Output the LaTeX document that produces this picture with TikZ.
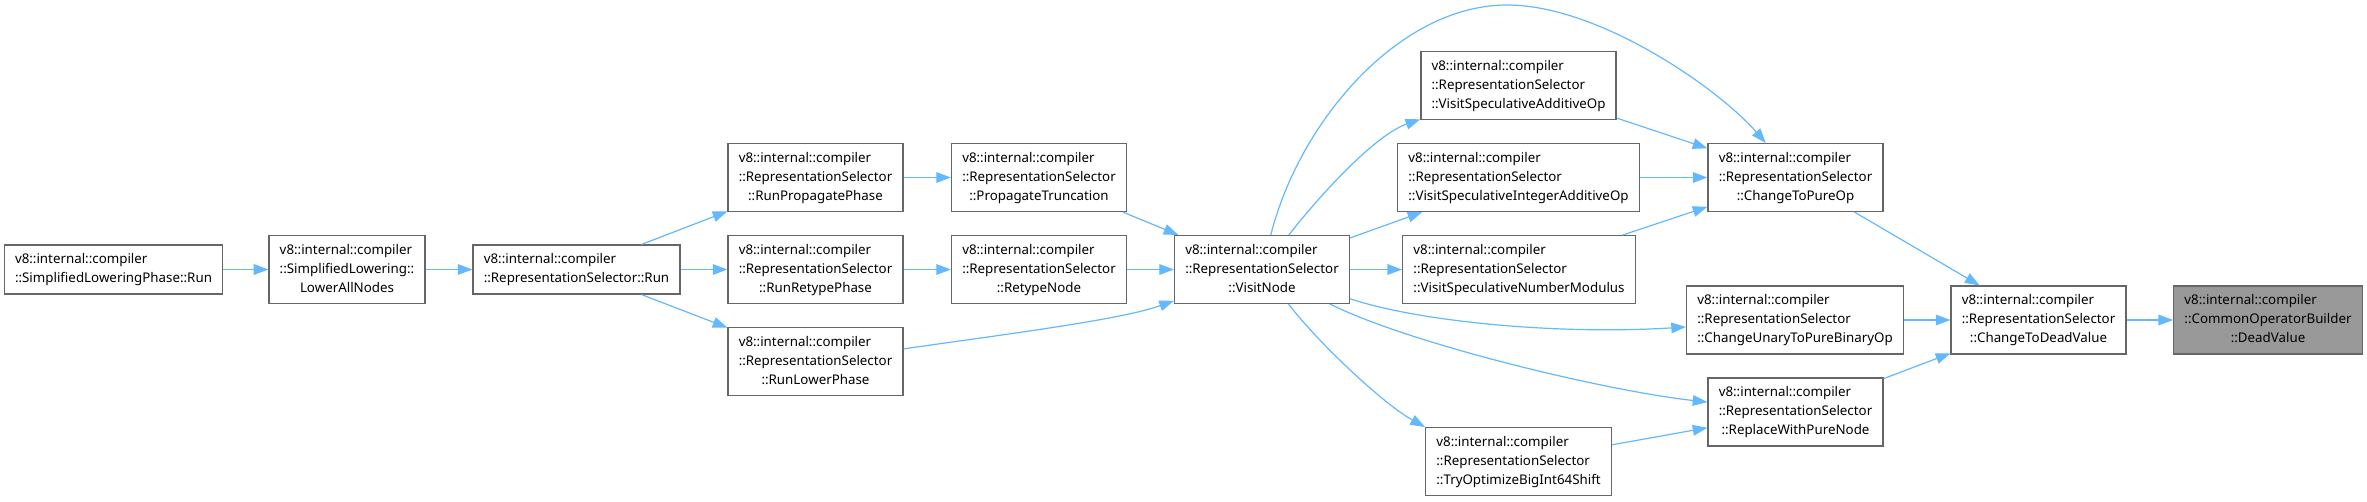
\documentclass[tikz,border=0pt]{standalone}
\usepackage{fontspec}
\setmainfont{Noto Sans}
\usetikzlibrary{arrows.meta}

\definecolor{edgeblue}{HTML}{63B8FF}
\definecolor{boxgray}{HTML}{666666}
\definecolor{hlgray}{HTML}{999999}

% qualified names: first lines flush left, last line centred
\newcommand{\qname}[2]{\begin{tabular}{@{}l@{}}v8::internal::compiler\\#1\\\multicolumn{1}{@{}c@{}}{#2}\end{tabular}}
\newcommand{\qnameshort}[1]{\begin{tabular}{@{}l@{}}v8::internal::compiler\\\multicolumn{1}{@{}c@{}}{#1}\end{tabular}}

\begin{document}
\begin{tikzpicture}[x=0.75pt, y=-0.75pt,
    fnbox/.style={draw=boxgray, line width=1pt, fill=white, inner xsep=8pt, inner ysep=4.1pt,
        font=\fontsize{10}{14.2}\selectfont},
    edge/.style={draw=edgeblue, line width=0.9pt, -{Triangle[length=11pt,width=8pt]}}]
    \useasboundingbox (0,0) rectangle (2367,501);

    % Callers on the left
    \node[fnbox] (phaserun) at (113.5,269.5) {\qnameshort{::SimplifiedLoweringPhase::Run}};
    \node[fnbox] (lowerall) at (347,269.5) {\qname{::SimplifiedLowering::}{LowerAllNodes}};
    \node[fnbox] (selrun) at (576.5,269.5) {\qnameshort{::RepresentationSelector::Run}};

    % Phases
    \node[fnbox] (runprop) at (815.5,177.5) {\qname{::RepresentationSelector}{::RunPropagatePhase}};
    \node[fnbox] (runretype) at (815.5,269.5) {\qname{::RepresentationSelector}{::RunRetypePhase}};
    \node[fnbox] (runlower) at (815.5,361.5) {\qname{::RepresentationSelector}{::RunLowerPhase}};
    \node[fnbox] (proptrunc) at (1039,177.5) {\qname{::RepresentationSelector}{::PropagateTruncation}};
    \node[fnbox] (retype) at (1039,269.5) {\qname{::RepresentationSelector}{::RetypeNode}};
    \node[fnbox] (visitnode) at (1262,269.5) {\qname{::RepresentationSelector}{::VisitNode}};

    % Visitors
    \node[fnbox] (visitadd) at (1518.5,85.5) {\qname{::RepresentationSelector}{::VisitSpeculativeAdditiveOp}};
    \node[fnbox] (visitint) at (1518.5,177.5) {\qname{::RepresentationSelector}{::VisitSpeculativeIntegerAdditiveOp}};
    \node[fnbox] (visitmod) at (1519,269.5) {\qname{::RepresentationSelector}{::VisitSpeculativeNumberModulus}};
    \node[fnbox] (tryshift) at (1518.5,461.5) {\qname{::RepresentationSelector}{::TryOptimizeBigInt64Shift}};

    % Towards the dead value
    \node[fnbox] (topure) at (1795.5,177.5) {\qname{::RepresentationSelector}{::ChangeToPureOp}};
    \node[fnbox] (unarybin) at (1795,320) {\qname{::RepresentationSelector}{::ChangeUnaryToPureBinaryOp}};
    \node[fnbox] (replace) at (1795.5,412) {\qname{::RepresentationSelector}{::ReplaceWithPureNode}};
    \node[fnbox] (todead) at (2038.5,320) {\qname{::RepresentationSelector}{::ChangeToDeadValue}};
    \node[fnbox, fill=hlgray] (deadvalue) at (2268,320) {\qname{::CommonOperatorBuilder}{::DeadValue}};

    % Straight calls
    \foreach \a/\b in {phaserun/lowerall, lowerall/selrun, selrun/runprop, selrun/runretype,
        selrun/runlower, runprop/proptrunc, runretype/retype, proptrunc/visitnode, retype/visitnode,
        visitnode/visitint, visitnode/visitmod, visitadd/topure, visitint/topure, visitmod/topure,
        tryshift/replace, topure/todead, unarybin/todead, replace/todead, todead/deadvalue}
        \draw[edge] (\a) -- (\b);

    % Curved calls
    \draw[edge] (runlower) .. controls (1000,335) and (1120,320) .. (visitnode);
    \draw[edge] (visitnode) .. controls (1320,195) and (1375,135) .. (visitadd);
    \draw[edge] (visitnode) .. controls (1300,120) and (1400,5) .. (1507,5)
        .. controls (1600,5) and (1720,90) .. (topure);
    \draw[edge] (visitnode) .. controls (1420,322) and (1560,335) .. (unarybin);
    \draw[edge] (visitnode) .. controls (1405,342) and (1600,390) .. (replace);
    \draw[edge] (visitnode) .. controls (1320,345) and (1385,405) .. (tryshift.north west);

\end{tikzpicture}
\end{document}
